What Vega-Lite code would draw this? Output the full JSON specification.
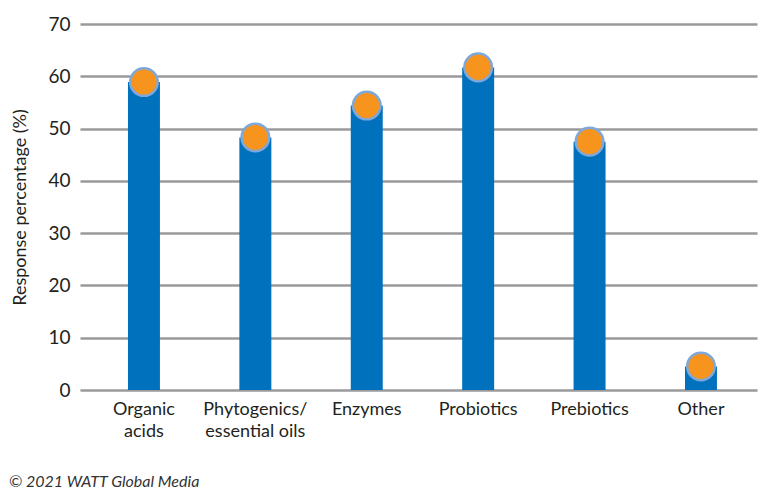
{
  "$schema": "https://vega.github.io/schema/vega-lite/v6.json",
  "width": 677,
  "height": 366,
  "autosize": {"type": "none"},
  "padding": {"left": 80, "top": 24, "right": 4, "bottom": 102},
  "background": "white",
  "config": {"view": {"stroke": null}, "font": "Lato"},
  "title": {
    "text": "© 2021 WATT Global Media",
    "orient": "bottom",
    "anchor": "start",
    "dx": -3,
    "offset": 34,
    "fontSize": 16,
    "fontStyle": "italic",
    "fontWeight": "normal",
    "color": "#333333",
    "font": "Lato"
  },
  "data": {
    "values": [
      {"category": "Organic|acids", "value": 58.9},
      {"category": "Phytogenics/|essential oils", "value": 48.3},
      {"category": "Enzymes", "value": 54.4},
      {"category": "Probiotics", "value": 61.7},
      {"category": "Prebiotics", "value": 47.5},
      {"category": "Other", "value": 4.5}
    ]
  },
  "encoding": {
    "x": {
      "field": "category",
      "type": "nominal",
      "sort": null,
      "scale": {"paddingInner": 0.713, "paddingOuter": 0.395, "align": 0.545},
      "axis": {
        "title": null,
        "labelAngle": 0,
        "labelExpr": "split(datum.label, '|')",
        "labelFontSize": 18,
        "labelColor": "#231F20",
        "labelLineHeight": 22,
        "labelPadding": 10,
        "ticks": false,
        "domain": false,
        "labelBaseline": "top"
      }
    },
    "y": {
      "field": "value",
      "type": "quantitative",
      "scale": {"domain": [0, 70]},
      "axis": {
        "title": "Response percentage (%)",
        "titleFontSize": 18,
        "titleFontWeight": "normal",
        "titleColor": "#231F20",
        "titlePadding": 18,
        "values": [0, 10, 20, 30, 40, 50, 60, 70],
        "labelFontSize": 19,
        "labelColor": "#231F20",
        "labelPadding": 10,
        "ticks": false,
        "domain": false,
        "grid": true,
        "gridColor": "#9A9A9C",
        "gridWidth": 2.5,
        "gridOpacity": 1
      }
    }
  },
  "layer": [
    {"mark": {"type": "bar", "color": "#0071BC"}},
    {
      "mark": {
        "type": "point",
        "filled": true,
        "fill": "#F7941D",
        "stroke": "#7FA8DA",
        "strokeWidth": 2.5,
        "size": 760,
        "opacity": 1,
        "shape": "circle"
      }
    }
  ]
}
